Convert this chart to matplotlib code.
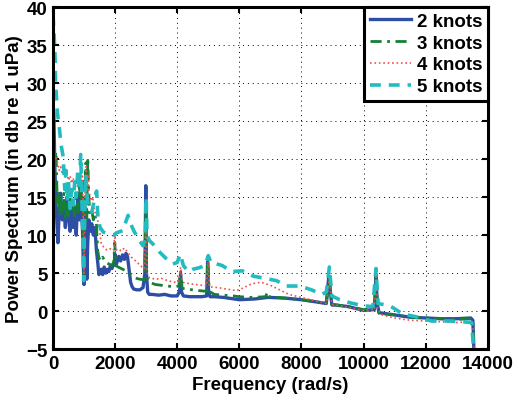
import matplotlib
matplotlib.use('Agg')
import matplotlib.pyplot as plt
import numpy as np

plt.rcParams['font.family'] = ['Liberation Sans', 'DejaVu Sans']
plt.rcParams['font.weight'] = 'bold'
plt.rcParams['axes.labelweight'] = 'bold'

# (frequency rad/s, power dB)
knots2 = [(0, 27), (30, 26), (60, 19), (100, 14), (160, 9), (200, 13), (250, 15.5), (300, 12),
          (350, 14), (400, 11), (450, 15), (500, 12.5), (550, 10.5), (600, 14), (650, 11),
          (700, 13.5), (750, 10), (800, 15.5), (850, 12), (900, 14.5), (950, 11), (980, 6),
          (1000, 3.5), (1030, 10), (1060, 13.5), (1090, 4.2), (1120, 9), (1160, 12), (1200, 10.5),
          (1250, 11.5), (1300, 10), (1350, 11), (1400, 8), (1440, 6.5), (1480, 4.8), (1550, 5.5),
          (1600, 4.8), (1650, 5.8), (1700, 5.0), (1750, 5.5), (1800, 5.2), (1850, 6.0), (1900, 5.6),
          (1950, 6.2), (1980, 6.5), (2000, 7.5), (2020, 6.0), (2060, 6.4), (2120, 7.2), (2180, 6.6),
          (2240, 7.4), (2300, 6.8), (2350, 7.6), (2400, 7.2), (2450, 5.5), (2500, 3.8), (2550, 3.2),
          (2600, 2.9), (2700, 2.8), (2800, 2.8), (2900, 3.1), (2960, 5.0), (2990, 16.5), (3010, 5.0),
          (3050, 2.5), (3100, 2.2), (3200, 2.2), (3400, 2.1), (3600, 2.2), (3800, 2.0), (4000, 2.0),
          (4080, 2.6), (4110, 4.8), (4140, 2.5), (4200, 2.0), (4400, 1.9), (4600, 1.9), (4800, 1.9),
          (4950, 2.0), (4980, 6.5), (5010, 2.5), (5060, 1.9), (5200, 1.9), (5500, 1.8), (6000, 1.5),
          (6500, 1.6), (6900, 1.8), (7000, 1.8), (7500, 1.7), (8000, 1.5), (8500, 1.2), (8800, 1.0),
          (8880, 4.5), (8920, 3.0), (8980, 0.8), (9100, 0.8), (9500, 0.6), (10000, 0.1), (10350, 0.2),
          (10400, 4.5), (10440, 1.0), (10500, -0.2), (11000, -0.5), (11500, -0.8), (12000, -0.9),
          (12500, -1.0), (13000, -1.0), (13450, -0.9), (13520, -1.2), (13560, -6)]

knots3 = [(0, 25), (30, 22), (60, 20), (100, 21), (140, 14), (180, 16), (220, 12.5), (260, 15),
          (300, 13), (350, 15.5), (400, 12), (450, 14.5), (500, 12.5), (550, 15), (600, 13),
          (650, 14), (700, 12.5), (750, 15.5), (800, 13), (850, 16.5), (900, 14), (950, 17.5),
          (980, 8), (1000, 4), (1030, 14), (1060, 19.5), (1090, 12), (1120, 20.2), (1150, 16),
          (1180, 13), (1220, 12.5), (1260, 13), (1300, 12), (1350, 12.8), (1400, 11.5), (1440, 8),
          (1480, 7), (1550, 6.6), (1600, 7.1), (1700, 6.4), (1800, 6.2), (1900, 6.0), (1960, 6.5),
          (1990, 9.0), (2020, 6.0), (2100, 5.8), (2200, 5.6), (2300, 5.4), (2400, 5.2), (2500, 4.8),
          (2600, 4.5), (2700, 4.3), (2800, 4.2), (2950, 4.1), (2990, 13), (3020, 4.5), (3100, 3.8),
          (3300, 3.5), (3500, 3.4), (3700, 3.3), (3900, 3.2), (4050, 3.3), (4110, 5.2), (4160, 3.0),
          (4300, 2.9), (4500, 2.8), (4700, 2.7), (4950, 2.6), (4990, 7.0), (5030, 2.6), (5200, 2.2),
          (5500, 2.1), (5800, 2.0), (6000, 1.9), (6400, 1.8), (6850, 1.9), (6900, 2.5), (6950, 1.9),
          (7500, 1.7), (8000, 1.5), (8500, 1.2), (8800, 1.0), (8900, 4.2), (8980, 0.9), (9500, 0.6),
          (10000, 0.2), (10350, 0.3), (10400, 5.0), (10450, 0.5), (10500, -0.3), (11000, -0.5),
          (11500, -0.8), (12000, -0.9), (12500, -1.0), (13000, -1.1), (13400, -1.0), (13520, -1.3),
          (13560, -6)]

knots4 = [(0, 26), (30, 22), (60, 20.5), (100, 20), (150, 19.5), (200, 18.5), (250, 19), (300, 18),
          (350, 18.5), (400, 17.5), (450, 18), (500, 17.2), (550, 17.8), (600, 16.8), (650, 17.5),
          (700, 16.5), (750, 17.2), (800, 16.2), (850, 17), (900, 16.5), (950, 18), (980, 10),
          (1000, 5), (1030, 15), (1070, 19), (1100, 14), (1130, 18), (1170, 15.5), (1220, 14.5),
          (1280, 15), (1330, 13.5), (1380, 12.5), (1430, 12), (1480, 11.5), (1550, 9), (1650, 8.3),
          (1750, 8), (1850, 8.2), (1950, 8), (1990, 10), (2020, 8), (2100, 8.2), (2200, 7.9),
          (2300, 8.3), (2400, 7.8), (2500, 7.2), (2600, 6.8), (2700, 6.5), (2800, 6.0), (2950, 5.6),
          (2990, 12), (3030, 5.0), (3100, 4.4), (3300, 4.2), (3500, 4.3), (3700, 4.0), (3900, 3.8),
          (4050, 3.9), (4110, 5.8), (4170, 3.8), (4400, 3.6), (4600, 3.5), (4800, 3.4), (4950, 3.3),
          (4990, 6.5), (5040, 3.2), (5300, 3.1), (5600, 2.9), (5900, 2.7), (6100, 3.0), (6400, 3.6),
          (6700, 3.8), (7000, 3.4), (7300, 2.8), (7600, 2.2), (8000, 1.8), (8500, 1.3), (8800, 1.0),
          (8900, 4.3), (8980, 0.9), (9500, 0.5), (10000, 0.1), (10350, 0.2), (10400, 4.8),
          (10450, 0.3), (10600, -0.5), (11000, -0.9), (11500, -1.2), (12000, -1.3), (12500, -1.4),
          (13000, -1.5), (13400, -1.4), (13520, -1.6), (13560, -6)]

knots5 = [(0, 39), (30, 37), (64, 34), (86, 30), (140, 26.2), (204, 24.2), (257, 22), (330, 20.3),
          (380, 16), (420, 18.5), (460, 14.5), (500, 17), (550, 13.5), (600, 16), (650, 14),
          (700, 17), (750, 15), (800, 18.5), (850, 16), (895, 20.6), (930, 15), (960, 10), (990, 4),
          (1020, 12), (1060, 18), (1100, 15), (1150, 13.5), (1250, 13), (1350, 15), (1406, 15.8),
          (1450, 12.2), (1520, 11), (1620, 10.4), (1800, 10.1), (1950, 10), (2050, 10.3),
          (2250, 10.6), (2350, 11.8), (2420, 12.6), (2500, 11.5), (2600, 10.6), (2750, 9.5),
          (2900, 8.6), (2970, 9.5), (3000, 15), (3030, 10), (3100, 9.3), (3300, 8.5), (3450, 7.7),
          (3650, 6.9), (3850, 6.2), (4000, 6.4), (4100, 7.5), (4200, 6.0), (4350, 5.2), (4500, 5.5),
          (4700, 5.7), (4900, 6.0), (5000, 7.3), (5100, 6.3), (5200, 6.3), (5450, 6.0), (5750, 5.2),
          (6100, 5.3), (6450, 4.6), (6850, 4.3), (7200, 4.0), (7520, 3.3), (7950, 3.3), (8325, 2.8),
          (8650, 2.2), (8800, 2.5), (8900, 5.8), (8980, 2.0), (9180, 1.6), (9560, 1.1), (9990, 0.7),
          (10300, 0.6), (10400, 5.6), (10470, 1.0), (10850, 0.7), (11270, -0.4), (11650, -0.7),
          (12190, -1.3), (12775, -1.3), (13200, -1.4), (13480, -1.5), (13560, -6)]

labels = ['2 knots', '3 knots', '4 knots', '5 knots']
colors = ['#2e4ea6', '#138036', '#f05050', '#22bcc0']
styles = ['-', '-.', ':', '--']
widths = [2.4, 2.0, 1.2, 2.6]

fig = plt.figure(figsize=(5.14, 4.02), dpi=100)
ax = fig.add_axes([0.103, 0.129, 0.846, 0.851])

for series, lab, col, ls, lw in zip([knots2, knots3, knots4, knots5], labels, colors, styles, widths):
    d = np.array(series)
    line, = ax.plot(d[:, 0], d[:, 1], color=col, linestyle=ls, linewidth=lw, label=lab)
    if ls == '--':
        line.set_dashes([3, 2.2])
    if ls == '-.':
        line.set_dashes([4, 2, 1, 2])

ax.set_xlim(0, 14000)
ax.set_ylim(-5, 40)
ax.set_xticks(np.arange(0, 14001, 2000))
ax.set_yticks(np.arange(-5, 41, 5))
ax.grid(True, color='black', linestyle=(0, (1, 4)), linewidth=0.7)
ax.tick_params(direction='in', length=4, width=1.5, top=True, right=True, labelsize=13.5, pad=4)
for s in ax.spines.values():
    s.set_linewidth(2.2)

ax.set_xlabel('Frequency (rad/s)', fontsize=13.5, labelpad=3)
ax.set_ylabel('Power Spectrum (in db re 1 uPa)', fontsize=13.5, labelpad=2)

leg = ax.legend(loc='upper right', fontsize=13.5, handlelength=2.2, borderaxespad=0,
                fancybox=False, framealpha=1, edgecolor='black', labelspacing=0.25,
                handletextpad=0.3, borderpad=0.3)
leg.get_frame().set_linewidth(2.2)

fig.savefig('out.png', dpi=100)
